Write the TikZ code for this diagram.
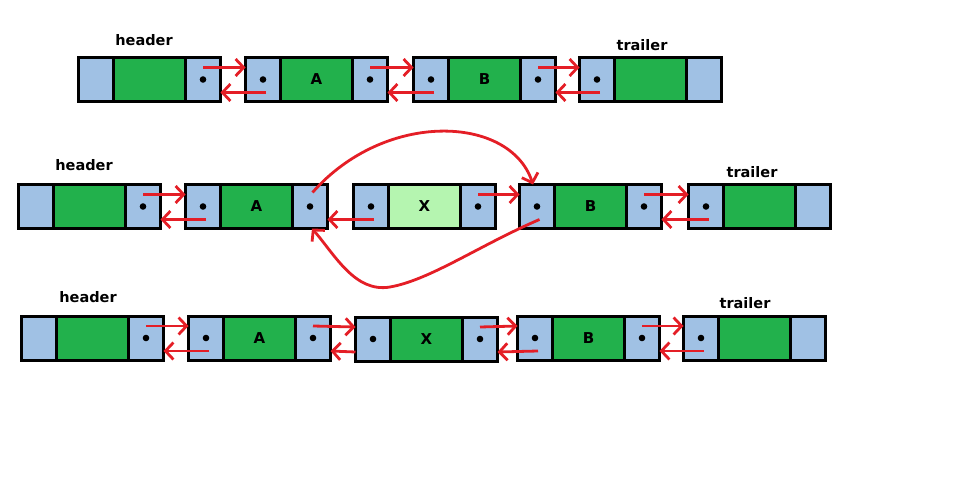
\documentclass[tikz,border=0pt]{standalone}
\usepackage{fontspec}
\setmainfont{DejaVu Sans}
\usetikzlibrary{arrows.meta, positioning}
\definecolor{cellblue}{RGB}{160,193,228}
\definecolor{datagreen}{RGB}{34,177,76}
\definecolor{newgreen}{RGB}{181,245,176}
\definecolor{linkred}{RGB}{228,30,38}
\tikzset{
    ptr/.style={draw, line width=3pt, fill=cellblue, minimum width=35pt, minimum height=44pt, inner sep=0pt, outer sep=0pt}, % pointer cell
    data/.style={ptr, minimum width=72pt, font=\bfseries\fontsize{15}{17}\selectfont}, % data cell
    link/.style={draw=linkred, line width=2.8pt, -{Straight Barb[length=8pt, width=17pt]}}, % link arrow
    lbl/.style={font=\bfseries\fontsize{14.5}{17}\selectfont} % header / trailer label
}
% list node: name, x, y, text, fill
\newcommand{\lnode}[5]{%
    \node[ptr, anchor=west] (#1-p) at (#2,#3) {};
    \node[data, fill=#5, right=0pt of #1-p] (#1) {#4};
    \node[ptr, right=0pt of #1] (#1-n) {};}
\newcommand{\fwd}[2]{\draw[link] ([yshift=12pt]#1-n.center) -- ([yshift=12pt]#2-p.west);}
\newcommand{\bwd}[2]{\draw[link] ([xshift=3pt,yshift=-13pt]#2-p.center) -- ([yshift=-13pt]#1-n.east);}

\begin{document}
\begin{tikzpicture}[x=1pt, y=-1pt]
    \useasboundingbox (0,0) rectangle (953,495);

    % before
    \lnode{h1}{78.5}{79.5}{}{datagreen}
    \lnode{A1}{245.5}{79.5}{A}{datagreen}
    \lnode{B1}{413.5}{79.5}{B}{datagreen}
    \lnode{t1}{579.5}{79.5}{}{datagreen}
    \node[lbl] (hl1) at (144,40) {header};
    \node[lbl] (tl1) at (642,45) {trailer};
    \fwd{h1}{A1} \bwd{h1}{A1}
    \fwd{A1}{B1} \bwd{A1}{B1}
    \fwd{B1}{t1} \bwd{B1}{t1}

    % linking X in
    \lnode{h2}{18.5}{206.5}{}{datagreen}
    \lnode{A2}{185.5}{206.5}{A}{datagreen}
    \lnode{X2}{353.5}{206.5}{X}{newgreen}
    \lnode{B2}{519.5}{206.5}{B}{datagreen}
    \lnode{t2}{688.5}{206.5}{}{datagreen}
    \node[lbl] (hl2) at (84,165) {header};
    \node[lbl] (tl2) at (752,172) {trailer};
    \fwd{h2}{A2} \bwd{h2}{A2}
    \bwd{A2}{X2}
    \fwd{X2}{B2}
    \fwd{B2}{t2} \bwd{B2}{t2}
    \draw[link] ([xshift=2.5pt,yshift=14pt]A2-n.center) .. controls (385,110) and (510,115) .. ([xshift=-4pt]B2-p.north);
    \draw[link] ([xshift=2.5pt,yshift=-13pt]B2-p.center) .. controls (480,245) and (430,280) .. (390,287)
        .. controls (355,293) and (335,255) .. ([xshift=2pt]A2-n.south);

    % after
    \lnode{h3}{21.5}{338}{}{datagreen}
    \lnode{A3}{188.5}{338}{A}{datagreen}
    \lnode{X3}{355.5}{339}{X}{datagreen}
    \lnode{B3}{517.5}{338}{B}{datagreen}
    \lnode{t3}{683.5}{338}{}{datagreen}
    \node[lbl] (hl3) at (88,297) {header};
    \node[lbl] (tl3) at (745,303) {trailer};
    \fwd{h3}{A3} \bwd{h3}{A3}
    \fwd{A3}{X3}
    \draw[link] ([yshift=-13pt]X3-p.west) -- ([yshift=-13pt]A3-n.east);
    \fwd{X3}{B3} \bwd{X3}{B3}
    \fwd{B3}{t3} \bwd{B3}{t3}

    \foreach \c in {h1-n,A1-p,A1-n,B1-p,B1-n,t1-p,
                    h2-n,A2-p,A2-n,X2-p,X2-n,B2-p,B2-n,t2-p,
                    h3-n,A3-p,A3-n,X3-p,X3-n,B3-p,B3-n,t3-p}
        \fill (\c) circle (3.3pt);
\end{tikzpicture}
\end{document}
